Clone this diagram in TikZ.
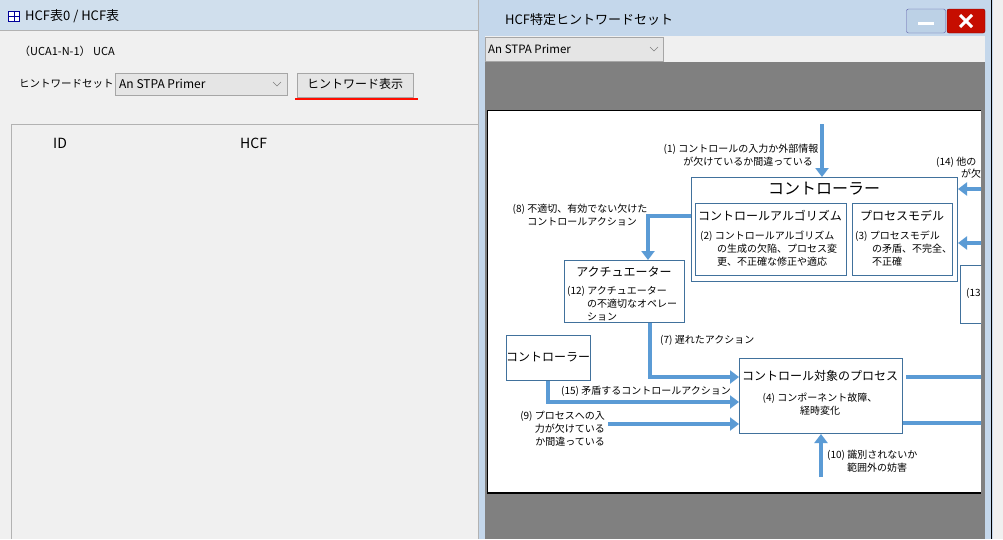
\documentclass[tikz,border=0pt]{standalone}
\usepackage{fontspec}
\setmainfont{Noto Sans CJK JP}
\usetikzlibrary{arrows.meta}
\definecolor{arr}{HTML}{5B9BD5}
\definecolor{bx}{HTML}{41719C}
\definecolor{winbg}{HTML}{F0F0F0}
\definecolor{frame}{HTML}{C4D7EB}
\definecolor{titlebar}{HTML}{BCD1E6}
\tikzset{
  bxs/.style={draw=bx,line width=1pt,fill=white},
  flow/.style={draw=arr,line width=4.5pt,-{Triangle[length=9pt,width=13pt]}},
  line/.style={draw=arr,line width=4.5pt},
  lab/.style={font=\fontsize{10}{13}\selectfont,inner sep=0pt,align=center},
  sub/.style={lab,font=\fontsize{12}{14}\selectfont},
  ui/.style={font=\fontsize{12}{14}\selectfont,inner sep=0pt,anchor=west},
  combo/.style={draw=gray!70,fill=gray!20,line width=0.8pt},
}
\begin{document}
\begin{tikzpicture}[x=1pt,y=-1pt]
\useasboundingbox (0,0) rectangle (1003,539);
% left window
\fill[winbg] (0,0) rectangle (1003,539);
\fill[titlebar!70] (0,0) rectangle (478,30);
\draw[gray!60] (0,30) -- (478,30);
\node[draw=blue!60!black,fill=white,minimum width=11pt,minimum height=10pt,inner sep=0pt] (ico) at (14,16) {};
\draw[blue!60!black] (ico.north)--(ico.south) (ico.west)--(ico.east);
\node[ui,font=\fontsize{13}{15}\selectfont] (t1) at (25,16) {HCF表0 / HCF表};
\node[ui,font=\fontsize{11}{13}\selectfont] (uca) at (19,51) {（UCA1-N-1） UCA};
\node[ui,font=\fontsize{10.5}{13}\selectfont] (hws) at (19,84) {ヒントワードセット};
\node[combo,minimum width=172pt,minimum height=22pt,anchor=north west,inner sep=0pt] (cb1) at (115,73) {};
\node[ui] (cb1t) at (119,84) {An STPA Primer};
\draw[gray] (273,82) -- (277,86) -- (281,82);
\node[combo,minimum width=116pt,minimum height=24pt,anchor=north west,inner sep=0pt] (btn) at (297,73) {};
\node[ui,anchor=center] (btnt) at (355,84) {ヒントワード表示};
\draw[red!90!orange,line width=1.5pt] (295,99) -- (418,99);
\draw[gray!60] (11,539) -- (11,124) -- (478,124);
\node[ui,font=\fontsize{14}{16}\selectfont] (id) at (53,143) {ID};
\node[ui,font=\fontsize{14}{16}\selectfont] (hcf) at (240,143) {HCF};
% right window
\fill[frame] (478,0) rectangle (993,539);
\draw[gray!60] (478,0) -- (478,539);
\draw[black,line width=0.8pt] (991,0) -- (991,539);
\fill[winbg] (485,36) rectangle (985,62);
\fill[black!50] (485,62) rectangle (985,539);
\node[ui,font=\fontsize{13}{15}\selectfont] (t2) at (505,20) {HCF特定ヒントワードセット};
\node[draw=gray!70!blue,fill=titlebar,rounded corners=2pt,minimum width=39pt,minimum height=24pt,inner sep=0pt] (minb) at (926,21) {};
\draw[white,line width=3pt] (918,23) -- (934,23);
\node[draw=red!50!black,fill=red!75!black!90!orange,rounded corners=2pt,minimum width=38pt,minimum height=24pt,inner sep=0pt] (clb) at (966,21) {};
\draw[white,line width=3pt] (960,15) -- (972,27) (972,15) -- (960,27);
\node[combo,minimum width=178pt,minimum height=24pt,anchor=north west,inner sep=0pt] (cb2) at (485,37) {};
\node[ui,font=\fontsize{11.5}{13}\selectfont] (cb2t) at (488,49) {An STPA Primer};
\draw[gray] (650,47) -- (654,51) -- (658,47);
% page
\fill[black] (487,110) rectangle (981,494);
\fill[white] (488,111) rectangle (981,492);
\begin{scope}
\clip (488,111) rectangle (981,492);
% controller
\node[bxs,minimum width=266pt,minimum height=104pt,anchor=north west,inner sep=0pt] (ctl) at (691,177) {};
\node[lab,font=\fontsize{16}{18}\selectfont] (ctlt) at (824,189) {コントローラー};
\node[bxs,minimum width=151pt,minimum height=72pt,anchor=north west,inner sep=0pt] (alg) at (695,203) {};
\node[sub] (algt) at (770,216) {コントロールアルゴリズム};
\node[lab,align=left,anchor=north west] (algx) at (700,231) {(2) コントロールアルゴリズム\\\hspace{17pt}の生成の欠陥、プロセス変\\\hspace{17pt}更、不正確な修正や適応};
\node[bxs,minimum width=100pt,minimum height=72pt,anchor=north west,inner sep=0pt] (pm) at (852,203) {};
\node[sub] (pmt) at (902,216) {プロセスモデル};
\node[lab,align=left,anchor=north west] (pmx) at (855,231) {(3) プロセスモデル\\\hspace{17pt}の矛盾、不完全、\\\hspace{17pt}不正確};
\node[bxs,minimum width=40pt,minimum height=58pt,anchor=north west,inner sep=0pt] (b13) at (960,265) {};
\node[lab,anchor=west] (b13t) at (966,293) {(13};
% (1)
\coordinate (in1) at (822,124);
\draw[flow] (in1) -- (in1 |- ctl.north);
\node[lab] (l1) at (741,155) {(1) コントロールの入力か外部情報\\\hspace{14pt}が欠けているか間違っている};
% (14)
\coordinate (in14a) at (990,189);
\coordinate (in14b) at (990,243);
\draw[flow] (in14a) -- (ctl.east |- in14a);
\draw[flow] (in14b) -- (ctl.east |- in14b);
\node[lab,anchor=west] (l14) at (936,162) {(14) 他の};
\node[lab,anchor=west] (l14b) at (961,174) {が欠};
% actuator
\node[bxs,minimum width=120pt,minimum height=62pt,anchor=north west,inner sep=0pt] (act) at (564,260) {};
\node[sub] (actt) at (624,272) {アクチュエーター};
\node[lab,align=left,anchor=north west] (actx) at (567,286) {(12) アクチュエーター\\\hspace{20pt}の不適切なオペレー\\\hspace{20pt}ション};
% (8)
\draw[flow] (ctl.west |- 0,216) -- (648,216) -- (act.north -| 648,0);
\node[lab] (l8) at (580,215) {(8) 不適切、有効でない欠けた\\\hspace{4pt}コントロールアクション};
% process
\node[bxs,minimum width=163pt,minimum height=75pt,anchor=north west,inner sep=0pt] (proc) at (739,358) {};
\node[sub] (proct) at (820,376) {コントロール対象のプロセス};
\node[lab] (procx) at (820,404) {(4) コンポーネント故障、\\経時変化};
% (7)
\draw[flow] (act.south -| 650,0) -- (650,377) -- (proc.west |- 0,377);
\node[lab,anchor=west] (l7) at (660,340) {(7) 遅れたアクション};
% controller 2
\node[bxs,minimum width=84pt,minimum height=45pt,anchor=north west,inner sep=0pt] (ctl2) at (506,335) {};
\node[sub] (ctl2t) at (548,357) {コントローラー};
% (15)
\draw[flow] (ctl2.south -| 548,0) -- (548,402) -- (proc.west |- 0,402);
\node[lab,anchor=west] (l15) at (561,391) {(15) 矛盾するコントロールアクション};
% (9)
\coordinate (in9) at (608,424);
\draw[flow] (in9) -- (proc.west |- in9);
\node[lab,align=right,anchor=north east] (l9) at (605,411) {(9) プロセスへの入\\力が欠けている\\か間違っている};
% (10)
\coordinate (in10) at (821,477);
\draw[flow] (in10) -- (proc.south -| in10);
\node[lab,align=left,anchor=west] (l10) at (827,461) {(10) 識別されないか\\\hspace{20pt}範囲外の妨害};
% outputs
\coordinate (o1) at (990,377);
\coordinate (o2) at (990,423);
\draw[line] (906,377) -- (o1);
\draw[line] (proc.east |- o2) -- (o2);
\end{scope}
\end{tikzpicture}
\end{document}
